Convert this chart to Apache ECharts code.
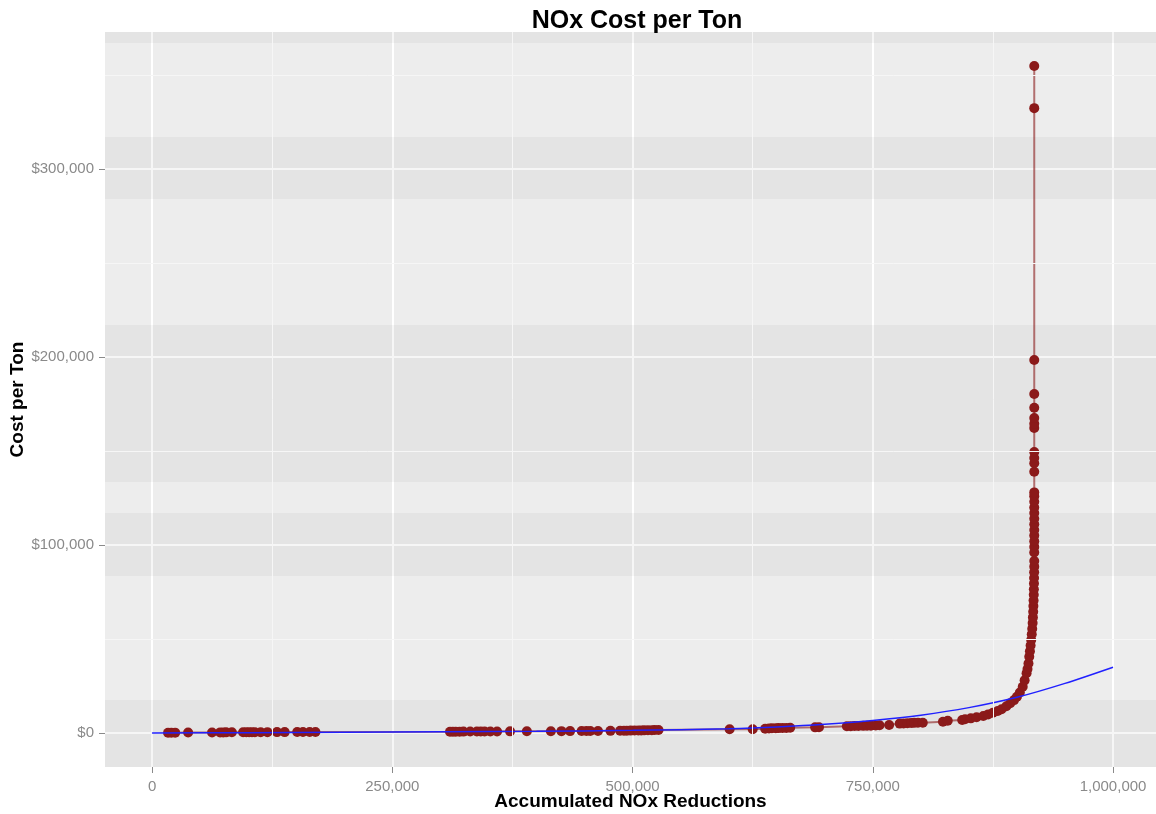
<!DOCTYPE html>
<html>
<head>
<meta charset="utf-8">
<title>NOx Cost per Ton</title>
<script src="https://cdn.jsdelivr.net/npm/echarts@6/dist/echarts.min.js"></script>
<style>
  html, body { margin: 0; padding: 0; background: #fff; }
  #chart { width: 1156px; height: 814px; }
</style>
</head>
<body>
<div id="chart"></div>
<script>
// accumulated NOx reductions (tons) and cost per ton ($)
const reductions = [
  16600, 20000, 24000, 37500, 62400, 70800, 74000, 77000, 83000, 94700,
  98000, 101000, 104000, 107000, 113000, 120000, 130000, 138000, 151000, 157000,
  164000, 170000, 310000, 313000, 316000, 320000, 324000, 331000, 338000, 342000,
  346000, 352000, 359000, 372500, 390000, 415000, 426000, 435000, 447000, 452000,
  456000, 464000, 477000, 487000, 491000, 494000, 498000, 502000, 506000, 509000,
  512000, 516000, 520000, 523000, 527000, 601000, 625000, 638000, 642000, 645000,
  649000, 652000, 656000, 660000, 664000, 690000, 694000, 723000, 727000, 731000,
  735000, 740000, 744000, 748000, 753000, 757000, 767000, 778000, 782000, 786000,
  790000, 793000, 797000, 802000, 823000, 828000, 843000, 846000, 852000, 858000,
  865000, 870000, 875000, 880000, 884000, 889000, 893000, 897000, 900000, 903000,
  906000, 908000, 910000, 911000, 912000, 912800, 913500, 914200, 914800, 915400,
  915900, 916300, 916600, 916900, 917100, 917300, 917500, 917600, 917700, 917800,
  917900, 918000, 918000, 918000, 918000, 918000, 918000, 918000, 918000, 918000,
  918000, 918000, 918000, 918000, 918000, 918000, 918000, 918000, 918000, 918000,
  918000, 918000, 918000, 918000, 918000, 918000, 918000
]
const costPerTon = [
  150, 180, 200, 250, 300, 320, 330, 340, 360, 380,
  390, 400, 410, 420, 430, 450, 470, 480, 500, 510,
  520, 540, 700, 710, 720, 730, 740, 760, 780, 790,
  800, 820, 840, 870, 900, 950, 980, 1000, 1050, 1060,
  1080, 1100, 1150, 1200, 1220, 1250, 1280, 1300, 1330, 1360,
  1400, 1450, 1500, 1550, 1600, 1970, 2000, 2300, 2400, 2500,
  2550, 2600, 2650, 2700, 2800, 3000, 3100, 3600, 3650, 3700,
  3750, 3800, 3850, 3900, 4000, 4100, 4250, 5000, 5100, 5200,
  5300, 5400, 5450, 5500, 6000, 6540, 6900, 7290, 7800, 8350,
  9040, 9900, 10800, 11700, 12600, 14200, 15800, 17500, 19300, 21500,
  24600, 28000, 31750, 34000, 37000, 40600, 43500, 46500, 49500, 52500,
  55500, 58500, 61500, 64500, 67500, 70500, 73500, 76500, 79500, 82500,
  85500, 88500, 91500, 96000, 99000, 102000, 105000, 108000, 111000, 114000,
  117000, 120000, 123000, 126000, 128000, 139000, 143500, 146300, 149500, 162200,
  164500, 167500, 173000, 180300, 198400, 332400, 354800
]

// fitted trend (blue line)
const fitReductions = [0, 100000, 200000, 300000, 400000, 500000, 600000, 650000, 700000, 750000, 800000, 850000, 900000, 950000, 1000000]
const fitCost = [0, 150, 350, 600, 900, 1400, 2300, 3200, 4600, 6700, 9500, 13500, 19000, 26400, 35000]

const xTicks = [0, 250000, 500000, 750000, 1000000]
const yTicks = [0, 100000, 200000, 300000]

const withCommas = v => String(Math.round(v)).replace(/\B(?=(\d{3})+(?!\d))/g, ',')

const chart = echarts.init(document.getElementById('chart'))

const points = reductions.map((x, i) => [x, costPerTon[i]])
const fit = fitReductions.map((x, i) => [x, fitCost[i]])

const option = {
  animation: false,
  backgroundColor: '#fff',
  title: {
    text: 'NOx Cost per Ton',
    left: 632,
    textAlign: 'center',
    top: 4,
    textStyle: {
      fontFamily: 'Liberation Sans',
      fontSize: 25,
      fontWeight: 'bold',
      color: '#000'
    }
  },
  grid: {
    left: 105,
    right: 0,
    top: 32,
    bottom: 47,
    containLabel: false,
    outerBoundsMode: 'none',
    show: true,
    backgroundColor: '#EDEDED',
    borderWidth: 0
  },
  xAxis: {
    type: 'value',
    min: -49000,
    max: 1044700,
    name: 'Accumulated NOx Reductions',
    nameLocation: 'middle',
    nameGap: 25,
    nameMoveOverlap: false,
    nameTextStyle: {
      fontFamily: 'Liberation Sans',
      fontSize: 19,
      fontWeight: 'bold',
      color: '#000'
    },
    axisLine: { show: false, onZero: false },
    axisTick: {
      show: true,
      length: 6,
      customValues: xTicks,
      lineStyle: { color: '#8a8a8a' }
    },
    axisLabel: {
      customValues: xTicks,
      margin: 12,
      fontFamily: 'Liberation Sans',
      fontSize: 15,
      color: '#8a8a8a',
      formatter: v => withCommas(v)
    },
    splitLine: {
      show: true,
      lineStyle: { color: '#ffffff', width: 2 }
    }
  },
  yAxis: {
    type: 'value',
    min: -18085,
    max: 372900,
    name: 'Cost per Ton',
    nameLocation: 'middle',
    nameGap: 78,
    nameMoveOverlap: false,
    nameTextStyle: {
      fontFamily: 'Liberation Sans',
      fontSize: 19,
      fontWeight: 'bold',
      color: '#000'
    },
    axisLine: { show: false, onZero: false },
    axisTick: {
      show: true,
      length: 6,
      customValues: yTicks,
      lineStyle: { color: '#8a8a8a' }
    },
    axisLabel: {
      customValues: yTicks,
      margin: 11,
      fontFamily: 'Liberation Sans',
      fontSize: 15,
      color: '#8a8a8a',
      formatter: v => '$' + withCommas(v)
    },
    splitLine: {
      show: true,
      lineStyle: { color: '#ffffff', width: 2 }
    }
  },
  series: [
    {
      // panel shading bands and minor grid lines
      name: 'panel',
      type: 'line',
      data: [],
      silent: true,
      z: 1,
      markArea: {
        silent: true,
        itemStyle: { color: 'rgba(0,0,0,0.035)' },
        data: [
          [{ yAxis: 367000 }, { yAxis: 372900 }],
          [{ yAxis: 284000 }, { yAxis: 317000 }],
          [{ yAxis: 133500 }, { yAxis: 217000 }],
          [{ yAxis: 83500 }, { yAxis: 117000 }],
          [{ yAxis: -18085 }, { yAxis: 17600 }]
        ]
      },
      markLine: {
        silent: true,
        symbol: 'none',
        label: { show: false },
        lineStyle: { color: '#f6f6f6', width: 1, type: 'solid' },
        data: [
          { xAxis: 125000 }, { xAxis: 375000 }, { xAxis: 625000 }, { xAxis: 875000 },
          { yAxis: 50000 }, { yAxis: 150000 }, { yAxis: 250000 }, { yAxis: 350000 }
        ]
      }
    },
    {
      name: 'path',
      type: 'line',
      data: points,
      showSymbol: false,
      clip: false,
      z: 2,
      lineStyle: { color: 'rgba(139,26,26,0.6)', width: 2 }
    },
    {
      name: 'Cost per Ton',
      type: 'scatter',
      data: points,
      symbolSize: 10,
      clip: false,
      z: 3,
      itemStyle: { color: '#8B1A1A', opacity: 1 }
    },
    {
      name: 'fit',
      type: 'line',
      data: fit,
      smooth: 0.3,
      showSymbol: false,
      clip: false,
      z: 4,
      lineStyle: { color: '#2020ff', width: 1.5 }
    }
  ]
}

chart.setOption(option)
</script>
</body>
</html>
